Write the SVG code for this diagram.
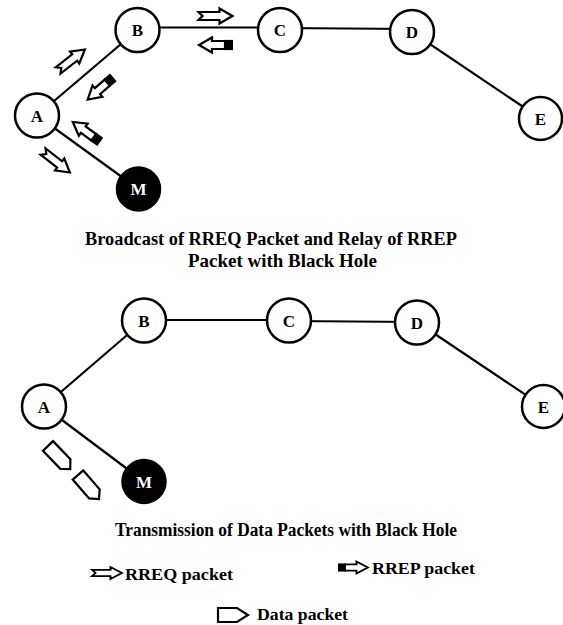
<svg xmlns="http://www.w3.org/2000/svg" xmlns:xlink="http://www.w3.org/1999/xlink" width="563" height="625" viewBox="0 0 563 625">
<style>
.edge{stroke:#000;stroke-width:2.2;fill:none}
.node circle{fill:#fff;stroke:#000;stroke-width:2.5}
.node text{font-family:'Liberation Serif','Times New Roman','DejaVu Serif',serif;font-weight:bold;font-size:17px;text-anchor:middle;fill:#000}
.node.black circle{fill:#000}
.node.black text{fill:#fff}
.cap{font-family:'Liberation Serif','Times New Roman','DejaVu Serif',serif;font-weight:bold;font-size:18px;fill:#000}
.leg{font-family:'Liberation Serif','Times New Roman','DejaVu Serif',serif;font-weight:bold;font-size:17.5px;fill:#000}
.pk{fill:#fff;stroke:#000;stroke-width:2.2;stroke-linejoin:miter}
</style>
<defs>
<path id="rreq" class="pk" d="M0,-4 H21 V-7.5 L34,0 L21,7.5 V4 H0 L4,0 Z"/>
<g id="rrep"><path class="pk" d="M8,-4 H21 V-7.5 L34,0 L21,7.5 V4 H8 Z"/><rect x="0" y="-5.1" width="9" height="10.2" fill="#000"/></g>
<path id="data" class="pk" d="M0,-7 H25 L32,0 L25,7 H0 Z"/>
<path id="dataleg" class="pk" d="M0,-7 H19 L30,0 L19,7 H0 Z"/>
</defs>
<g id="connectors">
<line class="edge" x1="37" y1="115.5" x2="137.5" y2="30"/>
<line class="edge" x1="37" y1="115.5" x2="138.5" y2="189"/>
<line class="edge" x1="137.5" y1="27.5" x2="280" y2="27.5"/>
<line class="edge" x1="280" y1="28" x2="412" y2="29"/>
<line class="edge" x1="412" y1="32" x2="540.5" y2="118.5"/>
<line class="edge" x1="44" y1="406.5" x2="144" y2="320.5"/>
<line class="edge" x1="44" y1="406.5" x2="144" y2="481.5"/>
<line class="edge" x1="144" y1="320" x2="289" y2="320"/>
<line class="edge" x1="289" y1="321" x2="417" y2="322"/>
<line class="edge" x1="417" y1="322" x2="543" y2="406.5"/>
</g>
<g id="packets-top">
<use xlink:href="#rreq" transform="translate(71.5,60) rotate(-38) translate(-17,0)"/>
<use xlink:href="#rrep" transform="translate(100.5,88.5) rotate(139) translate(-17,0)"/>
<use xlink:href="#rrep" transform="translate(86.5,132) rotate(216) translate(-17,0)"/>
<use xlink:href="#rreq" transform="translate(56.5,162) rotate(38) translate(-17,0)"/>
<use xlink:href="#rreq" transform="translate(215.5,16) translate(-17,0)"/>
<use xlink:href="#rrep" transform="translate(216,45) rotate(180) translate(-17,0)"/>
</g>
<g id="packets-bottom">
<use xlink:href="#data" transform="translate(48,446) rotate(46)"/>
<use xlink:href="#data" transform="translate(78,475) rotate(49)"/>
</g>
<g id="top-A" class="node"><circle cx="37" cy="115.5" r="22"/><text x="37" y="121.5">A</text></g>
<g id="top-B" class="node"><circle cx="137.5" cy="30" r="22"/><text x="137.5" y="36">B</text></g>
<g id="top-C" class="node"><circle cx="280" cy="30" r="22"/><text x="280" y="36">C</text></g>
<g id="top-D" class="node"><circle cx="412" cy="32" r="22"/><text x="412" y="38">D</text></g>
<g id="top-E" class="node"><circle cx="540.5" cy="118.5" r="21.5"/><text x="540.5" y="124.5">E</text></g>
<g id="top-M" class="node black"><circle cx="138.5" cy="189" r="21.5"/><text x="138.5" y="195">M</text></g>
<g id="bot-A" class="node"><circle cx="44" cy="406.5" r="22"/><text x="44" y="412.5">A</text></g>
<g id="bot-B" class="node"><circle cx="144" cy="320.5" r="22"/><text x="144" y="326.5">B</text></g>
<g id="bot-C" class="node"><circle cx="289" cy="320.5" r="22"/><text x="289" y="326.5">C</text></g>
<g id="bot-D" class="node"><circle cx="417" cy="322.5" r="22"/><text x="417" y="328.5">D</text></g>
<g id="bot-E" class="node"><circle cx="543.5" cy="406.5" r="21.5"/><text x="543.5" y="412.5">E</text></g>
<g id="bot-M" class="node black"><circle cx="144" cy="481.5" r="21.5"/><text x="144" y="487.5">M</text></g>
<g id="captions">
<text class="cap" x="85" y="245" textLength="372" lengthAdjust="spacingAndGlyphs">Broadcast of RREQ Packet and Relay of RREP</text>
<text class="cap" x="188" y="267" textLength="189" lengthAdjust="spacingAndGlyphs">Packet with Black Hole</text>
<text class="cap" x="115" y="536" textLength="342" lengthAdjust="spacingAndGlyphs">Transmission of Data Packets with Black Hole</text>
</g>
<g id="legend">
<use xlink:href="#rreq" transform="translate(92,573) scale(0.88,0.8)"/>
<text class="leg" x="125" y="580" textLength="108" lengthAdjust="spacingAndGlyphs">RREQ packet</text>
<use xlink:href="#rrep" transform="translate(338,567.5) scale(0.88,0.8)"/>
<text class="leg" x="372" y="573.5" textLength="103" lengthAdjust="spacingAndGlyphs">RREP packet</text>
<use xlink:href="#dataleg" transform="translate(218,615)"/>
<text class="leg" x="257" y="620" textLength="91" lengthAdjust="spacingAndGlyphs">Data packet</text>
</g>
</svg>
